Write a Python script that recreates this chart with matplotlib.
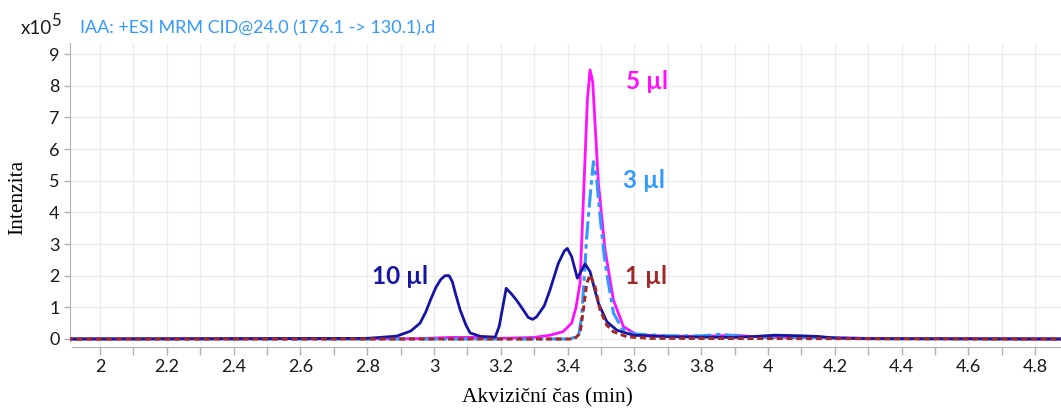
import numpy as np
import matplotlib
matplotlib.use("Agg")
import matplotlib.pyplot as plt

# retention time (min) / intensity (x10^5)
t_10 = [1.90, 2.80, 2.888, 2.93, 2.958, 2.975, 2.99, 3.005, 3.02, 3.033, 3.045, 3.055, 3.065,
        3.078, 3.095, 3.108, 3.14, 3.183, 3.195, 3.216, 3.232, 3.248, 3.265, 3.282, 3.295,
        3.307, 3.33, 3.347, 3.372, 3.390, 3.399, 3.412, 3.429, 3.452, 3.467, 3.48, 3.492,
        3.517, 3.547, 3.596, 3.70, 3.80, 3.90, 3.96, 4.02, 4.10, 4.15, 4.20, 4.30, 4.88]
i_10 = [0.0, 0.02, 0.09, 0.25, 0.5, 0.85, 1.25, 1.62, 1.88, 2.0, 2.0, 1.8, 1.4,
        0.92, 0.45, 0.19, 0.08, 0.06, 0.4, 1.6, 1.42, 1.21, 0.95, 0.68, 0.62,
        0.70, 1.05, 1.55, 2.39, 2.78, 2.86, 2.6, 1.92, 2.37, 2.13, 1.6, 1.13,
        0.55, 0.28, 0.12, 0.07, 0.06, 0.05, 0.08, 0.12, 0.10, 0.08, 0.03, 0.01, 0.0]

t_5 = [1.90, 2.95, 3.05, 3.12, 3.20, 3.30, 3.347, 3.386, 3.412, 3.425, 3.437, 3.447, 3.459,
       3.467, 3.475, 3.492, 3.512, 3.537, 3.567, 3.607, 3.70, 3.80, 3.90, 3.95, 4.05, 4.20,
       4.30, 4.88]
i_5 = [0.0, 0.01, 0.05, 0.05, 0.02, 0.05, 0.12, 0.23, 0.5, 1.0, 1.76, 4.39, 7.55,
       8.5, 8.12, 4.92, 2.81, 1.23, 0.39, 0.13, 0.09, 0.08, 0.12, 0.08, 0.05, 0.04,
       0.02, 0.0]

t_3 = [1.90, 3.40, 3.432, 3.442, 3.45, 3.457, 3.468, 3.477, 3.487, 3.497, 3.512, 3.537,
       3.562, 3.597, 3.70, 3.80, 3.86, 3.92, 4.00, 4.20, 4.30, 4.88]
i_3 = [0.0, 0.0, 0.07, 0.7, 2.0, 3.23, 4.6, 5.6, 5.02, 3.86, 2.39, 0.82,
       0.34, 0.16, 0.1, 0.1, 0.15, 0.08, 0.05, 0.04, 0.01, 0.0]

t_1 = [1.90, 3.42, 3.437, 3.447, 3.457, 3.467, 3.482, 3.497, 3.517, 3.537, 3.577, 3.65,
       4.88]
i_1 = [0.0, 0.0, 0.18, 0.92, 1.76, 2.02, 1.65, 0.92, 0.44, 0.23, 0.07, 0.02,
       0.0]

labels = ["10 µl", "5 µl", "3 µl", "1 µl"]
label_pos = [(2.982, 1.98), (3.575, 8.12), (3.566, 5.0), (3.572, 1.96)]

c_10 = "#1515a3"
c_5 = "#ff10ff"
c_3 = "#3399ff"
c_1 = "#a2292b"

fig = plt.figure(figsize=(10.61, 4.09), dpi=100)
ax = fig.add_axes([70 / 1061, 0.1557, 991 / 1061, 0.7392])

ax.plot(t_3, i_3, color=c_3, lw=2.2, ls=(0, (6, 1.5, 1.5, 1.5)), zorder=3)
ax.plot(t_10, i_10, color=c_10, lw=2.0, zorder=4)
ax.plot(t_5, i_5, color=c_5, lw=2.0, zorder=2)
ax.plot(t_1, i_1, color=c_1, lw=2.2, ls=(0, (2, 1.2)), zorder=5)

ax.set_xlim(1.91, 4.877)
ax.set_ylim(-0.2, 9.35)
ax.set_xticks(np.arange(2.0, 4.85, 0.1), minor=True)
ax.set_xticks(np.arange(2.0, 4.85, 0.2))
ax.set_xticklabels(["%g" % round(v, 1) for v in np.arange(2.0, 4.85, 0.2)])
ax.set_yticks(range(0, 10))
ax.grid(True, which="both", color="#ececec", lw=1.0)
ax.set_axisbelow(True)

for s in ["top", "right"]:
    ax.spines[s].set_visible(False)
ax.spines["left"].set_bounds(-0.05, 9.35)
ax.spines["left"].set_color("#b0b0b0")
ax.spines["bottom"].set_color("#b0b0b0")
ax.spines["bottom"].set_bounds(1.917, 4.877)
ax.spines["bottom"].set_position(("outward", 1))
ax.tick_params(axis="both", which="both", color="#b0b0b0", length=6, width=1,
               labelsize=13, labelcolor="#1a1a1a")
ax.tick_params(axis="y", length=4)
ax.tick_params(axis="x", pad=3)
for lab in ax.get_xticklabels() + ax.get_yticklabels():
    lab.set_family("Lato")

cols = [c_10, c_5, c_3, c_1]
for txt, (x, y), c in zip(labels, label_pos, cols):
    ha = "right" if txt == "10 µl" else "left"
    ax.text(x, y, txt, color=c, fontsize=17.5, fontweight="bold", family="Lato",
            ha=ha, va="center")

fig.text(21 / 1061, 1 - 28 / 409, "x10", fontsize=13.5, family="Lato", color="#1a1a1a",
         va="center")
fig.text(51 / 1061, 1 - 21 / 409, "5", fontsize=12, family="Lato", color="#1a1a1a",
         va="center")
fig.text(80 / 1061, 1 - 28 / 409, "IAA: +ESI MRM CID@24.0 (176.1 -> 130.1).d",
         fontsize=13, family="Lato", color=c_3, va="center")

fig.text(18 / 1061, 1 - 197 / 409, "Intenzita", rotation=90, fontsize=15.5,
         family="Liberation Serif", ha="center", va="center")
fig.text(547 / 1061, 1 - 398 / 409, "Akviziční čas (min)", fontsize=15.5,
         family="Liberation Serif", ha="center", va="center")

fig.savefig("out.png", dpi=100)
